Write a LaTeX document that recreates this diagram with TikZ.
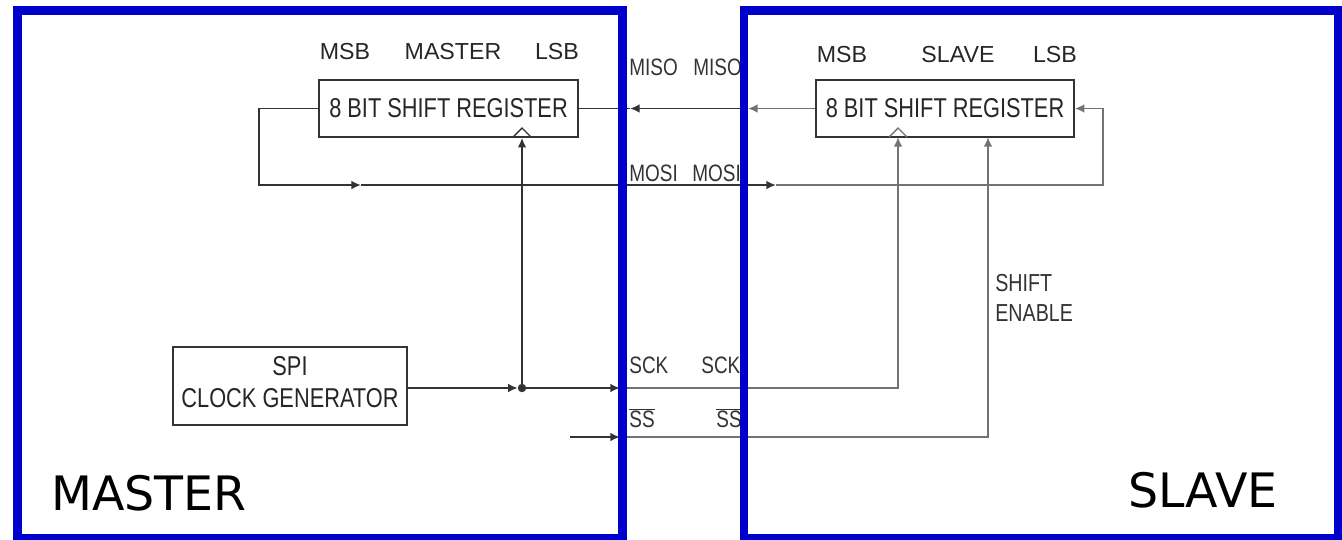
\documentclass[tikz,border=0pt]{standalone}
\usepackage{fontspec}
\setmainfont{Liberation Sans}
\newfontfamily\condfont[FakeStretch=0.8]{Liberation Sans}
\newfontfamily\bigfont{DejaVu Sans}
\usetikzlibrary{arrows.meta}
\definecolor{frameblue}{RGB}{0,0,204}
\tikzset{
  reg/.style={draw=black!80,line width=0.9pt,inner sep=0pt,align=center,
    font=\condfont\fontsize{15.5}{18}\selectfont,text=black!85},
  conn/.style={draw=black!80,line width=1.1pt},
  sconn/.style={draw=black!55,line width=1.1pt},
  tip/.style={-{Latex[length=5.5pt,width=5pt]}},
  bitlbl/.style={font=\fontsize{13.2}{15}\selectfont,text=black!85},
  siglbl/.style={font=\condfont\fontsize{13.5}{15}\selectfont,text=black!80,inner sep=0pt},
  sidelbl/.style={font=\bigfont\fontsize{27}{32}\selectfont},
  frame/.style={draw=frameblue,line width=5.1pt},
}
\begin{document}
\begin{tikzpicture}[x=0.02cm,y=-0.02cm]
  \useasboundingbox (0,0) rectangle (1342,539);
  % Shift registers and clock generator
  \node[reg,minimum width=5.18cm,minimum height=1.14cm] (mreg) at (448.5,108.5) {8 BIT SHIFT REGISTER};
  \node[reg,minimum width=5.16cm,minimum height=1.14cm] (sreg) at (945,108.5) {8 BIT SHIFT REGISTER};
  \node[reg,minimum width=4.68cm,minimum height=1.56cm] (clk) at (290,386) {SPI\\CLOCK GENERATOR\\[-13.4pt]\mbox{}};
  % Bit order labels
  \node[bitlbl] (mmsb) at (345,52) {MSB};
  \node[bitlbl] (mname) at (453,52) {MASTER};
  \node[bitlbl] (mlsb) at (557,52) {LSB};
  \node[bitlbl] (smsb) at (842,55) {MSB};
  \node[bitlbl] (sname) at (958,55) {SLAVE};
  \node[bitlbl] (slsb) at (1055,55) {LSB};
  % Clock inputs
  \draw[conn,line width=0.8pt] (513,137) -- (522,128) -- (531,137);
  \draw[sconn,line width=0.8pt] (889,137) -- (898,128) -- (907,137);
  % MISO
  \coordinate (misoS) at (748,108.5);
  \coordinate (misoM) at (630,108.5);
  \draw[sconn,tip] (sreg.west) -- (misoS);
  \draw[conn,tip] (misoS) -- (misoM);
  \draw[conn] (misoM) -- (mreg.east);
  % MOSI
  \coordinate (mosiA) at (361,185);
  \coordinate (mosiB) at (776,185);
  \coordinate (sfb) at (1103,185);
  \draw[conn,tip] (mreg.west) -- ++(-59,0) |- (mosiA);
  \draw[conn,tip] (mosiA) -- (mosiB);
  \draw[sconn,tip] (mosiB) -- (sfb) |- (sreg.east);
  % SCK
  \coordinate (dot) at (522,388);
  \coordinate (sckM) at (620,388);
  \coordinate (sclk) at (898,137);
  \draw[conn,tip] (clk.east |- dot) -- ++(110,0);
  \fill[black!80] (dot) circle[radius=2.4pt];
  \draw[conn,tip] (dot) -- (mreg.south -| dot);
  \draw[conn,tip] (dot) -- (sckM);
  \draw[sconn,tip] (sckM) -| (sclk);
  % SS
  \coordinate (ssIn) at (570,437);
  \coordinate (ssM) at (620,437);
  \coordinate (sen) at (988,137);
  \draw[conn,tip] (ssIn) -- (ssM);
  \draw[sconn,tip] (ssM) -| (sen);
  % Signal names
  \node[siglbl,anchor=west] (misoL) at (629,67) {MISO};
  \node[siglbl,anchor=west] (misoR) at (693,67) {MISO};
  \node[siglbl,anchor=west] (mosiL) at (629,173) {MOSI};
  \node[siglbl,anchor=west] (mosiR) at (692,173) {MOSI};
  \node[siglbl,anchor=west] (sckL) at (629,365) {SCK};
  \node[siglbl,anchor=west] (sckR) at (701,365) {SCK};
  \node[siglbl,anchor=west] (ssL) at (629,418) {$\overline{\mbox{SS}}$};
  \node[siglbl,anchor=west] (ssR) at (716,418) {$\overline{\mbox{SS}}$};
  \node[siglbl,anchor=north west,align=left,font=\condfont\fontsize{14}{17}\selectfont] (shen) at (995,274) {SHIFT\\ENABLE};
  % Master and slave frames
  \node[sidelbl] (mside) at (149,493) {MASTER};
  \node[sidelbl] (sside) at (1203,490) {SLAVE};
  \draw[frame] (17.5,10.5) rectangle (622.5,538);
  \draw[frame] (744,10.5) rectangle (1338,538);
\end{tikzpicture}
\end{document}
